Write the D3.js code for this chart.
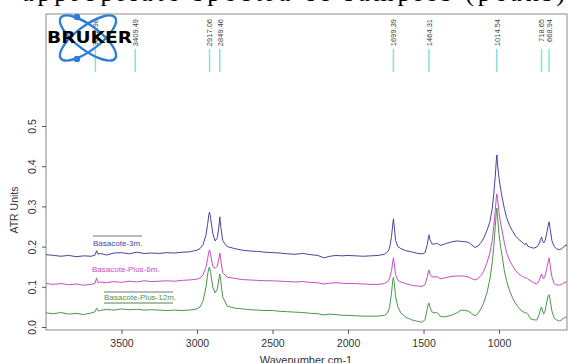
<!DOCTYPE html>
<html>
<head>
<meta charset="utf-8">
<script src="https://cdn.jsdelivr.net/npm/d3@7"></script>
<style>
  body { margin: 0; background: #fff; }
  svg { display: block; font-family: "Liberation Sans", Arial, sans-serif; }
</style>
</head>
<body>
<svg id="chart" width="568" height="363"></svg>
<script>
// wavenumbers (cm-1), shared by the three spectra
const wavenumbers = [4000, 3950, 3900, 3850, 3800, 3750, 3700, 3675, 3665, 3655, 3640, 3600, 3550, 3500, 3450, 3400, 3350, 3300, 3250, 3200,
  3150, 3100, 3050, 3000, 2980, 2960, 2940, 2930, 2922, 2917, 2910, 2895, 2880, 2865, 2855, 2849, 2842, 2830, 2800, 2750,
  2700, 2650, 2600, 2550, 2500, 2450, 2400, 2350, 2300, 2250, 2200, 2160, 2120, 2080, 2040, 2000, 1950, 1900, 1850, 1800,
  1760, 1740, 1725, 1712, 1704, 1699, 1694, 1685, 1670, 1650, 1620, 1580, 1540, 1510, 1490, 1475, 1468, 1464, 1458, 1445,
  1430, 1415, 1405, 1390, 1370, 1340, 1310, 1280, 1250, 1220, 1200, 1180, 1160, 1140, 1120, 1100, 1080, 1060, 1045, 1035,
  1025, 1018, 1014, 1010, 1000, 990, 980, 965, 950, 930, 910, 890, 870, 850, 830, 820, 810, 790, 770, 750,
  735, 725, 718, 712, 705, 695, 685, 675, 668, 662, 650, 635, 620, 600, 585, 570, 555, 550];

const basacote3m = [0.180, 0.178, 0.176, 0.178, 0.175, 0.177, 0.176, 0.179, 0.190, 0.181, 0.183, 0.179, 0.184, 0.185, 0.182, 0.186, 0.183, 0.184, 0.183, 0.185,
  0.184, 0.186, 0.187, 0.191, 0.195, 0.205, 0.230, 0.255, 0.278, 0.286, 0.270, 0.232, 0.214, 0.222, 0.250, 0.274, 0.248, 0.215, 0.200, 0.195,
  0.191, 0.189, 0.188, 0.186, 0.185, 0.184, 0.182, 0.181, 0.183, 0.180, 0.178, 0.172, 0.176, 0.178, 0.177, 0.178, 0.177, 0.176, 0.177, 0.178,
  0.181, 0.186, 0.196, 0.225, 0.255, 0.269, 0.250, 0.215, 0.200, 0.195, 0.190, 0.187, 0.183, 0.182, 0.185, 0.205, 0.222, 0.229, 0.218, 0.207,
  0.206, 0.208, 0.207, 0.203, 0.205, 0.209, 0.212, 0.214, 0.213, 0.212, 0.210, 0.204, 0.198, 0.201, 0.210, 0.222, 0.240, 0.262, 0.295, 0.330,
  0.375, 0.415, 0.428, 0.405, 0.370, 0.345, 0.323, 0.295, 0.272, 0.252, 0.238, 0.226, 0.218, 0.212, 0.205, 0.208, 0.201, 0.198, 0.196, 0.199,
  0.207, 0.218, 0.224, 0.214, 0.209, 0.215, 0.232, 0.252, 0.262, 0.245, 0.215, 0.200, 0.195, 0.192, 0.195, 0.200, 0.204, 0.203];

const basacotePlus6m = [0.108, 0.106, 0.108, 0.105, 0.107, 0.104, 0.106, 0.109, 0.122, 0.110, 0.112, 0.110, 0.113, 0.111, 0.114, 0.112, 0.115, 0.113, 0.114, 0.115,
  0.114, 0.116, 0.117, 0.119, 0.122, 0.130, 0.150, 0.170, 0.186, 0.192, 0.180, 0.150, 0.146, 0.152, 0.170, 0.184, 0.165, 0.135, 0.124, 0.121,
  0.118, 0.117, 0.116, 0.115, 0.115, 0.114, 0.113, 0.112, 0.113, 0.111, 0.110, 0.107, 0.109, 0.110, 0.109, 0.108, 0.108, 0.107, 0.106, 0.106,
  0.108, 0.112, 0.120, 0.140, 0.162, 0.172, 0.158, 0.130, 0.116, 0.112, 0.108, 0.104, 0.102, 0.101, 0.105, 0.125, 0.138, 0.142, 0.132, 0.125,
  0.124, 0.126, 0.124, 0.120, 0.121, 0.124, 0.126, 0.127, 0.127, 0.126, 0.124, 0.120, 0.117, 0.120, 0.128, 0.140, 0.160, 0.185, 0.215, 0.250,
  0.290, 0.322, 0.331, 0.318, 0.285, 0.258, 0.240, 0.210, 0.185, 0.165, 0.152, 0.140, 0.132, 0.127, 0.122, 0.123, 0.119, 0.115, 0.110, 0.107,
  0.115, 0.126, 0.132, 0.124, 0.120, 0.127, 0.145, 0.162, 0.172, 0.155, 0.125, 0.108, 0.105, 0.104, 0.106, 0.110, 0.112, 0.112];

const basacotePlus12m = [0.035, 0.033, 0.036, 0.032, 0.034, 0.031, 0.035, 0.038, 0.047, 0.040, 0.041, 0.044, 0.042, 0.045, 0.043, 0.044, 0.042, 0.043, 0.042, 0.041,
  0.042, 0.041, 0.042, 0.045, 0.050, 0.065, 0.100, 0.130, 0.146, 0.149, 0.135, 0.098, 0.085, 0.095, 0.120, 0.132, 0.112, 0.075, 0.052, 0.047,
  0.045, 0.043, 0.042, 0.041, 0.041, 0.039, 0.038, 0.037, 0.036, 0.034, 0.033, 0.030, 0.032, 0.031, 0.029, 0.029, 0.028, 0.027, 0.027, 0.027,
  0.029, 0.034, 0.048, 0.085, 0.115, 0.124, 0.110, 0.075, 0.050, 0.035, 0.025, 0.018, 0.014, 0.012, 0.018, 0.045, 0.058, 0.060, 0.050, 0.038,
  0.035, 0.036, 0.034, 0.027, 0.025, 0.027, 0.030, 0.035, 0.042, 0.041, 0.039, 0.033, 0.028, 0.033, 0.045, 0.062, 0.085, 0.120, 0.160, 0.200,
  0.250, 0.285, 0.296, 0.275, 0.230, 0.200, 0.178, 0.140, 0.115, 0.090, 0.072, 0.058, 0.048, 0.040, 0.035, 0.036, 0.032, 0.020, 0.018, 0.017,
  0.030, 0.045, 0.050, 0.040, 0.032, 0.040, 0.060, 0.078, 0.080, 0.068, 0.040, 0.022, 0.018, 0.015, 0.018, 0.022, 0.025, 0.024];

const seriesNames = ["Basacote-3m.", "Basacote-Plus-6m.", "Basacote-Plus-12m."];
const seriesColors = ["#45459e", "#c84cc4", "#4b954b"];

// picked peaks (top of the plot)
const peakPositions = [3672.98, 3409.49, 2917.06, 2849.46, 1699.39, 1464.31, 1014.54, 718.65, 668.94];

const xTicks = [3500, 3000, 2500, 2000, 1500, 1000];
const yTicks = [0.0, 0.1, 0.2, 0.3, 0.4, 0.5];

const svg = d3.select('#chart');

// caption line of the page above the figure, only its lower edge is in frame
svg.append('text')
  .attr('x', 22).attr('y', 1)
  .attr('font-family', '"Liberation Serif", "Times New Roman", serif')
  .attr('font-size', 26)
  .attr('textLength', 543)
  .attr('lengthAdjust', 'spacing')
  .attr('fill', '#000')
  .text('appropriate spectra of samples (peaks)');

const x = d3.scaleLinear().domain([4000, 550]).range([46, 567]);
const y = d3.scaleLinear().domain([0, 0.5]).range([327, 126]);

// plot box
svg.append('rect')
  .attr('x', 46).attr('y', 14)
  .attr('width', 521).attr('height', 316)
  .attr('fill', '#fff')
  .attr('stroke', '#8a8a8a')
  .attr('stroke-width', 1);

// x axis
const xAxis = svg.append('g')
  .attr('transform', 'translate(0,330)')
  .call(d3.axisBottom(x).tickValues(xTicks).tickSize(4).tickPadding(6).tickFormat(d3.format('d')));
xAxis.select('.domain').remove();
xAxis.selectAll('line').attr('stroke', '#555');
xAxis.selectAll('text').attr('fill', '#333').attr('font-size', 10.5).attr('font-family', '"Liberation Sans", Arial, sans-serif');

// y axis, labels turned like R's default
const yAxis = svg.append('g')
  .attr('transform', 'translate(46,0)')
  .call(d3.axisLeft(y).tickValues(yTicks).tickSize(4).tickFormat(d3.format('.1f')));
yAxis.select('.domain').remove();
yAxis.selectAll('line').attr('stroke', '#555');
yAxis.selectAll('text')
  .attr('fill', '#333')
  .attr('font-size', 10.5)
  .attr('font-family', '"Liberation Sans", Arial, sans-serif')
  .attr('x', null).attr('dy', null)
  .attr('text-anchor', 'middle')
  .attr('transform', 'translate(-10,0) rotate(-90)');

svg.append('text')
  .attr('transform', 'translate(18,210) rotate(-90)')
  .attr('text-anchor', 'middle')
  .attr('font-size', 10.5)
  .attr('fill', '#333')
  .text('ATR Units');

svg.append('text')
  .attr('x', 306).attr('y', 364)
  .attr('text-anchor', 'middle')
  .attr('font-size', 11)
  .attr('fill', '#333')
  .text('Wavenumber cm-1');

// spectra
const seriesValues = [basacote3m, basacotePlus6m, basacotePlus12m];
const line = d3.line()
  .x((d, i) => x(wavenumbers[i]))
  .y(d => y(d));

svg.append('g')
  .selectAll('path')
  .data(seriesValues)
  .join('path')
  .attr('fill', 'none')
  .attr('stroke', (d, i) => seriesColors[i])
  .attr('stroke-width', 1)
  .attr('d', line);

// peak markers
const peaks = svg.append('g');
peaks.selectAll('line')
  .data(peakPositions)
  .join('line')
  .attr('x1', d => x(d)).attr('x2', d => x(d))
  .attr('y1', 49).attr('y2', 72)
  .attr('stroke', '#86dfe2')
  .attr('stroke-width', 1.5);
peaks.selectAll('text')
  .data(peakPositions)
  .join('text')
  .attr('transform', d => `translate(${x(d) + 2.8},19) rotate(-90)`)
  .attr('text-anchor', 'end')
  .attr('font-size', 7.5)
  .attr('fill', '#444')
  .text(d => d3.format('.2f')(d));

// legend labels sitting on the curves
const legendPos = [[93, 246], [92, 272], [104, 300]];
svg.append('g')
  .selectAll('text')
  .data(seriesNames)
  .join('text')
  .attr('x', (d, i) => legendPos[i][0])
  .attr('y', (d, i) => legendPos[i][1])
  .attr('font-size', 8)
  .attr('fill', (d, i) => seriesColors[i])
  .text(d => d);
svg.append('line').attr('x1', 93).attr('x2', 142).attr('y1', 236).attr('y2', 236).attr('stroke', '#777');
svg.append('line').attr('x1', 104).attr('x2', 173).attr('y1', 292).attr('y2', 292).attr('stroke', '#777');
svg.append('line').attr('x1', 104).attr('x2', 173).attr('y1', 303).attr('y2', 303).attr('stroke', '#5d7a5d');

// Bruker logo
const logo = svg.append('g');
const blue = '#2c7fd8';
logo.append('ellipse')
  .attr('cx', 0).attr('cy', 0).attr('rx', 34).attr('ry', 12)
  .attr('transform', 'translate(88,38) rotate(37)')
  .attr('fill', 'none').attr('stroke', blue).attr('stroke-width', 2.4);
logo.append('ellipse')
  .attr('cx', 0).attr('cy', 0).attr('rx', 34).attr('ry', 12)
  .attr('transform', 'translate(88,38) rotate(-37)')
  .attr('fill', 'none').attr('stroke', blue).attr('stroke-width', 2.4);
logo.append('circle').attr('cx', 77).attr('cy', 17).attr('r', 3.2).attr('fill', blue);
logo.append('circle').attr('cx', 77).attr('cy', 59).attr('r', 3.2).attr('fill', blue);
logo.append('text')
  .attr('x', 47).attr('y', 43)
  .attr('font-family', '"DejaVu Sans", Arial, sans-serif')
  .attr('font-weight', 'bold')
  .attr('font-size', 15)
  .attr('textLength', 85)
  .attr('lengthAdjust', 'spacingAndGlyphs')
  .attr('fill', '#000')
  .text('BRUKER');
</script>
</body>
</html>
